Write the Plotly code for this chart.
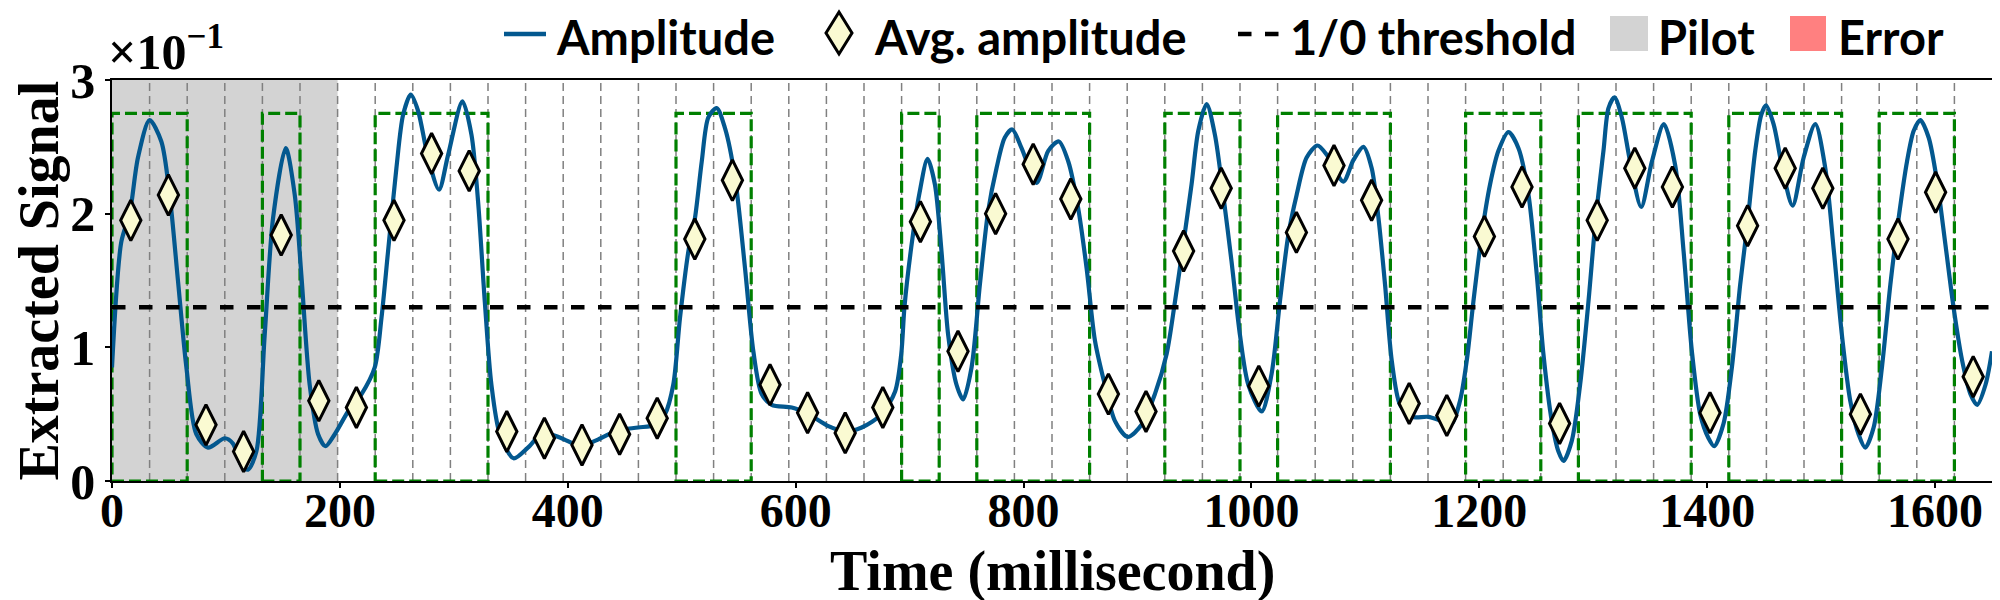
import plotly.graph_objects as go

# ---------------- data ----------------
# amplitude curve: time (ms) and value (x1e-1)
amp_t = [0, 8.2, 15.5, 22.8, 33, 43.3, 50.6, 58, 65.3, 74, 84.3, 99, 106.2, 113.5, 119.4,
         126.7, 134, 141.4, 152.5, 160.4, 166.2, 173.5, 180.9, 187.3, 195.5, 207.2, 219,
         230.6, 236.5, 242.3, 249.6, 255.5, 262.2, 268.6, 277.4, 287, 295, 307.6, 315.5,
         321.3, 327.2, 333, 340.4, 352.5, 365, 378.4, 394.5, 411.5, 423.8, 444.3, 461.8,
         476.5, 485.3, 492.6, 498.5, 505.9, 511.7, 517.6, 523.4, 530.7, 538, 546.8, 555.6,
         562.9, 570.2, 579, 596.6, 611.2, 628.8, 643.4, 658, 675.6, 687.3, 692.7, 695.5,
         701.5, 708.6, 715.8, 722.2, 728, 733.9, 741.2, 747, 754.4, 761.7, 769, 776.3,
         783.6, 790.1, 798.3, 811.5, 821.7, 831, 839.3, 848, 855.4, 862.7, 871.4, 880.2,
         891.4, 903.6, 915.3, 925.6, 932.9, 940.2, 947.5, 953.4, 960.7, 968, 975.3, 982.6,
         990, 997.3, 1009, 1017.7, 1025, 1032.4, 1039.7, 1048.5, 1058, 1067, 1080.7, 1089.5,
         1098.3, 1105.6, 1111.5, 1117.3, 1123.2, 1130.5, 1140.7, 1155.3, 1167, 1175.8,
         1183.1, 1189, 1194.8, 1202.1, 1209.5, 1216.8, 1225.6, 1234.4, 1243.2, 1250.5,
         1256.3, 1263.6, 1269.5, 1273.9, 1281.2, 1288.5, 1295.8, 1302.3, 1309, 1313.4,
         1318.7, 1325.1, 1332.4, 1342.1, 1351.5, 1362, 1372, 1379.3, 1386.6, 1393.9,
         1401.2, 1406.2, 1414.4, 1421.7, 1429, 1434.9, 1442.2, 1447.5, 1451.6, 1458.3,
         1467.1, 1475, 1484.7, 1494.9, 1503.7, 1511, 1518.3, 1525.6, 1532.9, 1538.8,
         1546.1, 1553.4, 1560.8, 1568.1, 1575.4, 1581.3, 1587.1, 1594.4, 1601.8, 1609.1,
         1616.4, 1623.8, 1631.1, 1637, 1644.3, 1650]
amp_v = [0.85, 1.79, 2.0, 2.42, 2.70, 2.54, 2.14, 1.49, 0.85, 0.35, 0.25, 0.32, 0.28, 0.12, 0.085,
         0.22, 1.09, 1.97, 2.49, 2.14, 1.54, 0.72, 0.35, 0.26, 0.35, 0.52, 0.65,
         0.85, 1.22, 1.72, 2.34, 2.74, 2.89, 2.77, 2.42, 2.18, 2.44, 2.84, 2.59,
         2.09, 1.34, 0.72, 0.35, 0.17, 0.25, 0.36, 0.32, 0.26, 0.30, 0.38, 0.40,
         0.42, 0.50, 0.72, 1.22, 1.72, 1.97, 2.39, 2.72, 2.79, 2.64, 2.27, 1.59,
         0.97, 0.65, 0.57, 0.55, 0.50, 0.41, 0.37, 0.40, 0.50, 0.67, 0.95, 1.30,
         1.75, 2.15, 2.41, 2.22, 1.72, 1.09, 0.72, 0.61, 0.85, 1.47, 2.02, 2.34,
         2.57, 2.63, 2.49, 2.23, 2.47, 2.54, 2.39, 2.04, 1.59, 1.05, 0.72, 0.45,
         0.33, 0.42, 0.65, 0.95, 1.34, 1.77, 2.22, 2.62, 2.82, 2.59, 2.14, 1.64,
         1.09, 0.72, 0.52, 0.80, 1.34, 1.84, 2.14, 2.42, 2.51, 2.43, 2.24, 2.40,
         2.50, 2.34, 1.97, 1.47, 0.90, 0.57, 0.48, 0.48, 0.45, 0.43,
         0.60, 0.90, 1.34, 1.84, 2.22, 2.47, 2.61, 2.49, 2.14, 1.54,
         0.95, 0.45, 0.22, 0.15, 0.30, 0.72, 1.34, 1.97, 2.47, 2.79,
         2.87, 2.72, 2.39, 2.05, 2.39, 2.67, 2.36, 1.72, 0.97, 0.50,
         0.32, 0.26, 0.43, 0.85, 1.47, 1.89, 2.47, 2.74, 2.81, 2.67,
         2.29, 2.06, 2.42, 2.67, 2.34, 1.74, 1.09, 0.60, 0.35, 0.25,
         0.40, 0.85, 1.47, 1.97, 2.39, 2.62, 2.70, 2.57, 2.24, 1.77,
         1.29, 0.90, 0.65, 0.57, 0.72, 0.97]

# average amplitude per bit (x1e-1) and the transmitted bits
avg_amp = [1.95, 2.14, 0.42, 0.22, 1.84, 0.60, 0.55, 1.95, 2.45, 2.32,
           0.37, 0.32, 0.27, 0.35, 0.47, 1.81, 2.25, 0.72, 0.51, 0.36,
           0.55, 1.94, 0.97, 2.00, 2.37, 2.11, 0.65, 0.52, 1.72, 2.19,
           0.71, 1.86, 2.36, 2.10, 0.58, 0.49, 1.83, 2.20, 0.43, 1.95,
           2.34, 2.20, 0.51, 1.91, 2.34, 2.19, 0.50, 1.81, 2.16, 0.78]
bits = [1, 1, 0, 0, 1, 0, 0, 1, 1, 1,
        0, 0, 0, 0, 0, 1, 1, 0, 0, 0,
        0, 1, 0, 1, 1, 1, 0, 0, 1, 1,
        0, 1, 1, 1, 0, 0, 1, 1, 0, 1,
        1, 1, 0, 1, 1, 1, 0, 1, 1, 0]
bit_ms = 33
pilot_bits = 6
threshold = 1.3        # x1e-1
box_height = 2.75      # x1e-1
scale = 0.1
x_max = 1650
y_ticks = [0, 1, 2, 3]
x_ticks = [0, 200, 400, 600, 800, 1000, 1200, 1400, 1600]

legend_labels = ["Amplitude", "Avg. amplitude", "1/0 threshold", "Pilot", "Error"]
x_title = "Time (millisecond)"
y_title = "Extracted Signal"

# ---------------- styling ----------------
W, H = 2000, 600
ML, MR, MT, MB = 104, 16, 72, 127
PW, PH = W - ML - MR, H - MT - MB
BLUE = "#03588f"
DIAMOND_FILL = "#FAFAD2"
PILOT_C = "#D3D3D3"
ERROR_C = "#FF8080"
GREEN = "#008000"
SERIF = "Liberation Serif"
SANS = "Lato"


def px_x(p):
    return (p - ML) / PW


def px_y(p):
    return (H - MB - p) / PH


fig = go.Figure()

# amplitude curve
fig.add_trace(go.Scatter(
    x=amp_t, y=[v * scale for v in amp_v], mode="lines", name=legend_labels[0],
    line=dict(color=BLUE, width=4.2, shape="spline", smoothing=0.8),
    showlegend=False, hoverinfo="skip"))

# threshold
fig.add_trace(go.Scatter(
    x=[0, x_max], y=[threshold * scale] * 2, mode="lines", name=legend_labels[2],
    line=dict(color="black", width=4.5, dash="dash"), showlegend=False))

# average amplitude diamonds at bit centres
centres = [bit_ms * (i + 0.5) for i in range(len(avg_amp))]
fig.add_trace(go.Scatter(
    x=centres, y=[v * scale for v in avg_amp], mode="markers", name=legend_labels[1],
    marker=dict(symbol="diamond-tall", size=29, color=DIAMOND_FILL,
                line=dict(color="black", width=3)),
    showlegend=False))

shapes = []
# pilot region
shapes.append(dict(type="rect", xref="x", yref="y", x0=0, x1=pilot_bits * bit_ms,
                   y0=0, y1=0.3, fillcolor=PILOT_C, line=dict(width=0), layer="below"))
# bit boundaries
for k in range(1, len(bits)):
    shapes.append(dict(type="line", xref="x", yref="y", x0=k * bit_ms, x1=k * bit_ms,
                       y0=0, y1=0.3, line=dict(color="#808080", width=1.5, dash="8px,5px"),
                       layer="below"))
# green boxes around runs of "1" bits
i = 0
while i < len(bits):
    if bits[i] == 1:
        j = i
        while j + 1 < len(bits) and bits[j + 1] == 1:
            j += 1
        shapes.append(dict(type="rect", xref="x", yref="y", x0=i * bit_ms, x1=(j + 1) * bit_ms,
                           y0=0, y1=box_height * scale,
                           line=dict(color=GREEN, width=3.2, dash="12px,5px"), layer="below"))
        i = j + 1
    else:
        i += 1

# ---------------- manual legend (top row) ----------------
LY = 26
shapes.append(dict(type="line", xref="paper", yref="paper", x0=px_x(496), x1=px_x(538),
                   y0=px_y(LY), y1=px_y(LY), line=dict(color=BLUE, width=4.5)))
cx, cy, hw, hh = 831, 25, 13, 21
shapes.append(dict(type="path", xref="paper", yref="paper",
                   path=(f"M {px_x(cx)},{px_y(cy - hh)} L {px_x(cx + hw)},{px_y(cy)} "
                         f"L {px_x(cx)},{px_y(cy + hh)} L {px_x(cx - hw)},{px_y(cy)} Z"),
                   fillcolor=DIAMOND_FILL, line=dict(color="black", width=3)))
shapes.append(dict(type="line", xref="paper", yref="paper", x0=px_x(1230), x1=px_x(1271),
                   y0=px_y(LY), y1=px_y(LY), line=dict(color="black", width=4.5, dash="dash")))
shapes.append(dict(type="rect", xref="paper", yref="paper", x0=px_x(1602), x1=px_x(1640),
                   y0=px_y(43), y1=px_y(8), fillcolor=PILOT_C, line=dict(width=0)))
shapes.append(dict(type="rect", xref="paper", yref="paper", x0=px_x(1782), x1=px_x(1818),
                   y0=px_y(43), y1=px_y(8), fillcolor=ERROR_C, line=dict(width=0)))

legend_text_x = [546, 864, 1280, 1648, 1828]
annotations = []
for lab, tx in zip(legend_labels, legend_text_x):
    annotations.append(dict(text=lab, xref="paper", yref="paper", x=px_x(tx), y=px_y(29),
                            xanchor="left", yanchor="middle", showarrow=False,
                            font=dict(family=SANS, size=47, color="black", weight="bold")))

# exponent label
annotations.append(dict(text="×10<sup>−1</sup>", xref="paper", yref="paper",
                        x=px_x(98), y=px_y(74), xanchor="left", yanchor="bottom",
                        showarrow=False,
                        font=dict(family=SERIF, size=50, color="black", weight="bold")))

# axis titles
annotations.append(dict(text=x_title, xref="paper", yref="paper", x=0.5, y=px_y(563),
                        xanchor="center", yanchor="middle", showarrow=False,
                        font=dict(family=SERIF, size=56, color="black", weight="bold")))
annotations.append(dict(text=y_title, xref="paper", yref="paper", x=px_x(30), y=0.5,
                        xanchor="center", yanchor="middle", textangle=-90, showarrow=False,
                        font=dict(family=SERIF, size=56, color="black", weight="bold")))

fig.update_layout(
    width=W, height=H, margin=dict(l=ML, r=MR, t=MT, b=MB),
    paper_bgcolor="white", plot_bgcolor="white", showlegend=False,
    shapes=shapes, annotations=annotations,
    font=dict(family=SERIF, color="black"),
)
fig.update_xaxes(
    range=[0, x_max], tickvals=x_ticks, ticktext=[str(t) for t in x_ticks],
    showgrid=False, zeroline=False, showline=True, linecolor="black", linewidth=1.6,
    mirror=True, ticks="outside", ticklen=5, tickwidth=1.6, tickcolor="black",
    ticklabelstandoff=-18,
    tickfont=dict(family=SERIF, size=48, color="black", weight="bold"),
)
fig.update_yaxes(
    range=[0, 0.3], tickvals=[t * scale for t in y_ticks], ticktext=[str(t) for t in y_ticks],
    showgrid=False, zeroline=False, showline=True, linecolor="black", linewidth=1.6,
    mirror=True, ticks="outside", ticklen=5, tickwidth=1.6, tickcolor="black",
    tickfont=dict(family=SERIF, size=50, color="black", weight="bold"),
)

fig.write_html("out.html")
